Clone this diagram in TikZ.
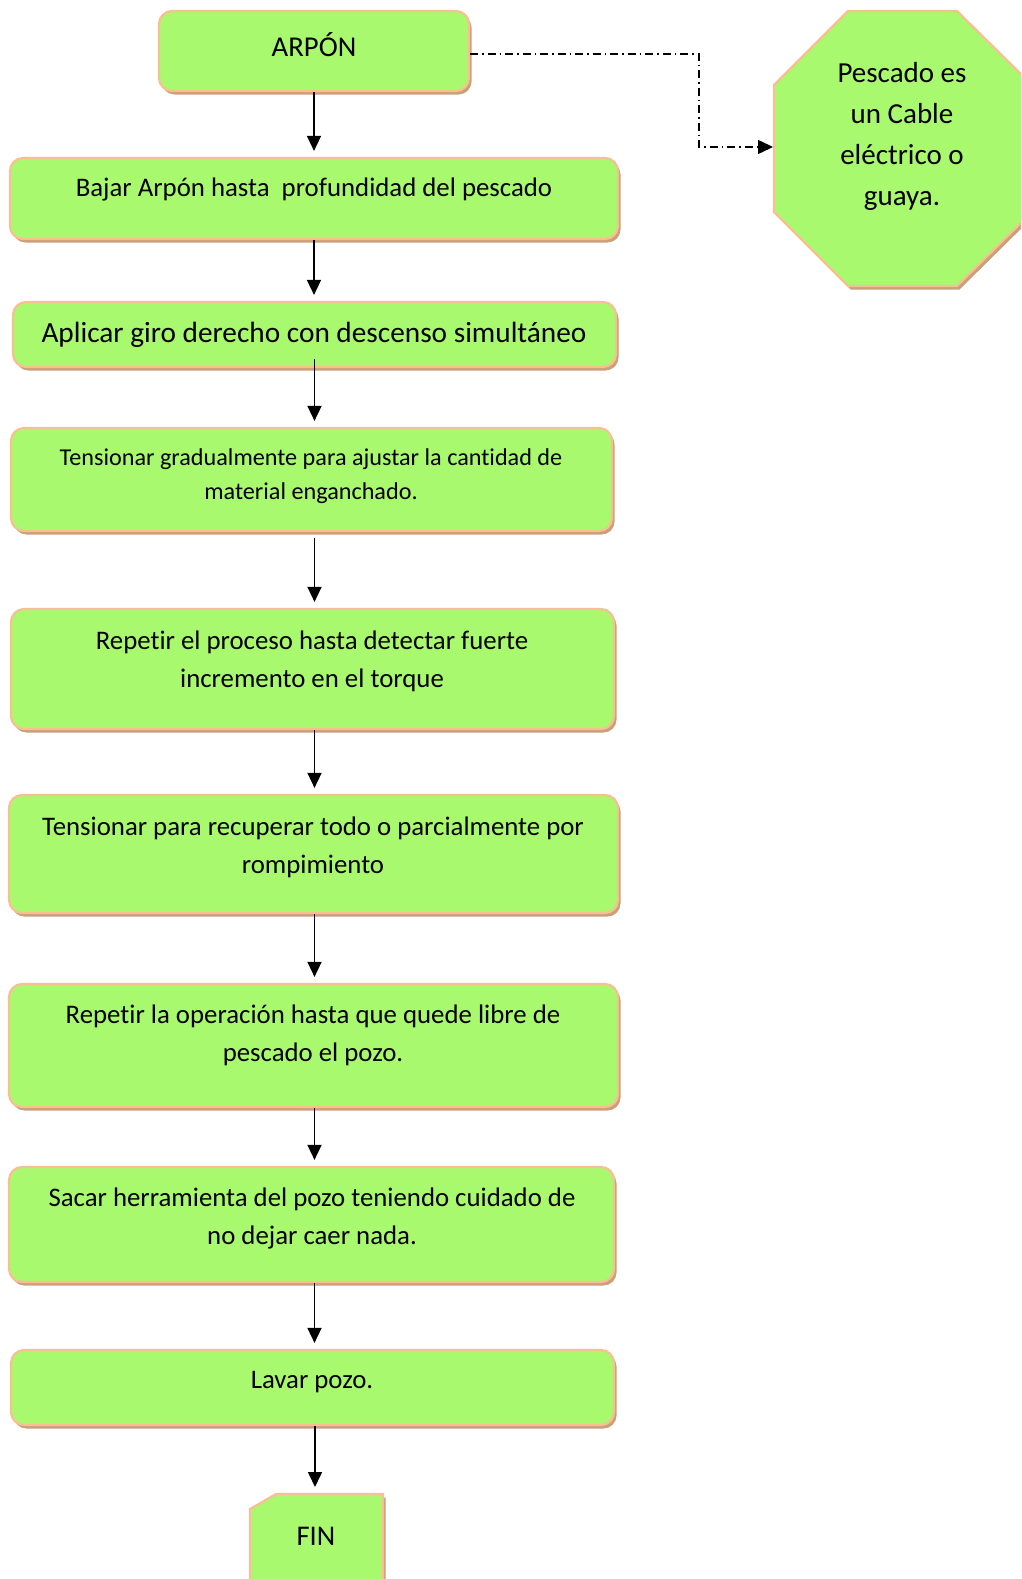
\documentclass[tikz,border=0pt]{standalone}
\usepackage{fontspec}
\setmainfont[Ligatures={NoCommon}]{Carlito}
\usetikzlibrary{arrows.meta}
\definecolor{boxfill}{HTML}{A9F96E}
\definecolor{boxline}{HTML}{F8BF92}
\definecolor{shade}{HTML}{C9A07A}
\begin{document}
\begin{tikzpicture}[x=1pt,y=-1pt,
  boxshape/.style={draw=boxline, line width=2.2pt, fill=boxfill, rounded corners=13pt, inner sep=0pt,
     preaction={fill=shade, transform canvas={shift={(2.5pt,-3.5pt)}}}},
  polyshape/.style={draw=boxline, line width=2.2pt, fill=boxfill,
     preaction={fill=shade, transform canvas={shift={(2.5pt,-3.5pt)}}}},
  txt/.style={align=center, inner sep=0pt, text=black},
  arr/.style={line width=1.6pt, -{Triangle[length=15pt,width=14pt]}, shorten >=6pt},
  dd/.style={line width=1.5pt, dash pattern=on 8pt off 4pt on 1.5pt off 4pt, -{Triangle[length=15pt,width=14pt]}}
]
\useasboundingbox (0,0) rectangle (1021,1579);
\clip (0,0) rectangle (1021,1579);

% boxes
\node[boxshape, minimum width=310pt, minimum height=80pt] (b1) at (314,51) {};
\node[boxshape, minimum width=608pt, minimum height=81pt] (b2) at (314,198.5) {};
\node[boxshape, minimum width=603pt, minimum height=65pt] (b3) at (314.5,334.5) {};
\node[boxshape, minimum width=601pt, minimum height=103pt] (b4) at (311.5,479.5) {};
\node[boxshape, minimum width=603pt, minimum height=120pt] (b5) at (312.5,669) {};
\node[boxshape, minimum width=609pt, minimum height=118pt] (b6) at (313.5,854) {};
\node[boxshape, minimum width=609pt, minimum height=123pt] (b7) at (313.5,1045.5) {};
\node[boxshape, minimum width=605pt, minimum height=115pt] (b8) at (311.5,1224.5) {};
\node[boxshape, minimum width=603pt, minimum height=75pt] (b9) at (312.5,1387.5) {};

% octagon
\path[polyshape] (774,85) -- (848,11) -- (957,11) -- (1032,85) -- (1032,212) -- (957,286) -- (848,286) -- (774,212) -- cycle;
\coordinate (octW) at (773,147);
\coordinate (bend) at (699,147);

% FIN
\path[polyshape] (250,1509) -- (276,1494) -- (383,1494) -- (383,1600) -- (250,1600) -- cycle;
\coordinate (finTop) at (315,1493);

% texts
\node[txt, font=\fontsize{28.7}{33}\selectfont] (t1) at (314,45) {ARPÓN};
\node[txt, font=\fontsize{26.8}{30}\selectfont] (t2) at (314,189) {Bajar Arpón hasta\ \ profundidad del pescado};
\node[txt, font=\fontsize{29.3}{33}\selectfont] (t3) at (314,335) {Aplicar giro derecho con descenso simultáneo};
\node[txt, font=\fontsize{24.2}{34.5}\selectfont] (t4) at (311,476) {Tensionar gradualmente para ajustar la cantidad de\\material enganchado.};
\node[txt, font=\fontsize{26.8}{38}\selectfont] (t5) at (312,661) {Repetir el proceso hasta detectar fuerte\\incremento en el torque};
\node[txt, font=\fontsize{26.8}{38}\selectfont] (t6) at (313,847) {Tensionar para recuperar todo o parcialmente por\\rompimiento};
\node[txt, font=\fontsize{26.8}{38}\selectfont] (t7) at (313,1035.5) {Repetir la operación hasta que quede libre de\\pescado el pozo.};
\node[txt, font=\fontsize{26.8}{38}\selectfont] (t8) at (312,1218) {Sacar herramienta del pozo teniendo cuidado de\\no dejar caer nada.};
\node[txt, font=\fontsize{26.8}{30}\selectfont] (t9) at (312,1382) {Lavar pozo.};
\node[txt, font=\fontsize{29}{41}\selectfont] (t10) at (902,136) {Pescado es\\un Cable\\eléctrico o\\guaya.};
\node[txt, font=\fontsize{28.5}{33}\selectfont] (t11) at (316,1536) {FIN};

% connectors
\draw[arr] (b1.south) -- (b1.south |- b2.north);
\draw[arr] (b2.south) -- (b2.south |- b3.north);
\draw[arr, shorten <=-9pt] (b3.south) -- (b3.south |- b4.north);
\draw[arr, shorten <=6pt] (b4.south -| b3.south) -- (b3.south |- b5.north);
\draw[arr] (b5.south -| b3.south) -- (b3.south |- b6.north);
\draw[arr] (b6.south -| b3.south) -- (b3.south |- b7.north);
\draw[arr] (b7.south -| b3.south) -- (b3.south |- b8.north);
\draw[arr] (b8.south -| b3.south) -- (b3.south |- b9.north);
\draw[arr] (b9.south -| finTop) -- (finTop);
\draw[dd] ([yshift=-3pt]b1.east) -| (bend) -- (octW);
\end{tikzpicture}
\end{document}
